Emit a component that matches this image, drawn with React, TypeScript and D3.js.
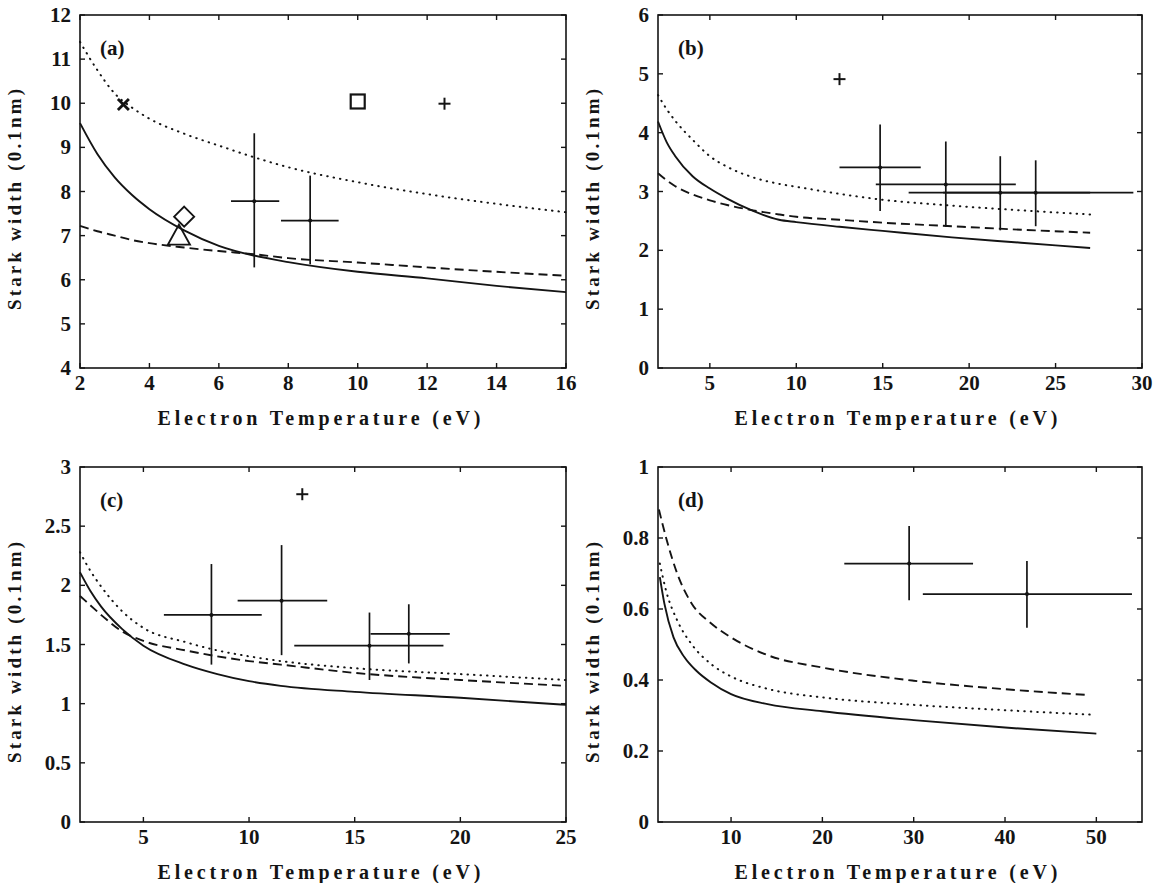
import React from 'react';
import * as d3 from 'd3';

// ---- panel (a) ----
const tempsA = [2, 2.5, 3, 3.5, 4, 5, 6, 7, 8, 10, 12, 14, 16];
const solidA = [9.55, 8.85, 8.32, 7.92, 7.6, 7.12, 6.77, 6.55, 6.4, 6.18, 6.03, 5.86, 5.72];
const dashedA = [7.22, 7.1, 7.0, 6.9, 6.83, 6.73, 6.65, 6.58, 6.49, 6.39, 6.28, 6.18, 6.09];
const dottedA = [11.39, 10.75, 10.22, 9.9, 9.65, 9.31, 9.04, 8.78, 8.55, 8.21, 7.94, 7.72, 7.53];
const barsA = [
  { t: 7.02, w: 7.78, tLo: 6.35, tHi: 7.74, wLo: 6.28, wHi: 9.32 },
  { t: 8.63, w: 7.34, tLo: 7.79, tHi: 9.45, wLo: 6.35, wHi: 8.36 },
];
const markersA = [
  { kind: 'x', t: 3.25, w: 9.97 },
  { kind: 'square', t: 10, w: 10.04 },
  { kind: 'plus', t: 12.5, w: 9.99 },
  { kind: 'diamond', t: 5.0, w: 7.43 },
  { kind: 'triangle', t: 4.85, w: 7.0 },
];

// ---- panel (b) ----
const tempsB = [2, 2.5, 3, 4, 5, 6, 7.5, 9, 10, 12.5, 15, 19, 23, 27];
const solidB = [4.19, 3.84, 3.6, 3.26, 3.05, 2.88, 2.67, 2.52, 2.48, 2.4, 2.33, 2.22, 2.13, 2.04];
const dashedB = [3.31, 3.19, 3.09, 2.95, 2.85, 2.77, 2.68, 2.61, 2.57, 2.52, 2.47, 2.41, 2.35, 2.3];
const dottedB = [4.64, 4.4, 4.2, 3.88, 3.6, 3.42, 3.24, 3.13, 3.08, 2.96, 2.86, 2.76, 2.68, 2.61];
const barsB = [
  { t: 14.85, w: 3.41, tLo: 12.5, tHi: 17.2, wLo: 2.67, wHi: 4.14 },
  { t: 18.65, w: 3.12, tLo: 14.6, tHi: 22.7, wLo: 2.4, wHi: 3.85 },
  { t: 21.8, w: 2.98, tLo: 16.5, tHi: 27.0, wLo: 2.34, wHi: 3.6 },
  { t: 23.85, w: 2.98, tLo: 18.5, tHi: 29.5, wLo: 2.41, wHi: 3.53 },
];
const markersB = [{ kind: 'plus', t: 12.5, w: 4.91 }];

// ---- panel (c) ----
const tempsC = [2, 2.5, 3, 4, 5, 7, 8.5, 10, 11.5, 15, 20, 25];
const solidC = [2.11, 1.95, 1.82, 1.63, 1.49, 1.33, 1.25, 1.19, 1.15, 1.1, 1.05, 0.99];
const dashedC = [1.91, 1.83, 1.75, 1.61, 1.53, 1.45, 1.4, 1.36, 1.33, 1.26, 1.2, 1.15];
const dottedC = [2.28, 2.12, 1.99, 1.78, 1.64, 1.52, 1.45, 1.4, 1.36, 1.3, 1.25, 1.2];
const barsC = [
  { t: 8.22, w: 1.75, tLo: 5.97, tHi: 10.6, wLo: 1.33, wHi: 2.18 },
  { t: 11.54, w: 1.87, tLo: 9.46, tHi: 13.7, wLo: 1.41, wHi: 2.34 },
  { t: 15.7, w: 1.49, tLo: 12.14, tHi: 19.2, wLo: 1.2, wHi: 1.77 },
  { t: 17.56, w: 1.59, tLo: 15.75, tHi: 19.5, wLo: 1.34, wHi: 1.84 },
];
const markersC = [{ kind: 'plus', t: 12.52, w: 2.77 }];

// ---- panel (d) ----
const tempsDs = [2.2, 2.7, 3.7, 4.9, 6.2, 7.8, 10, 14, 20, 30, 40, 50];
const solidD = [0.69, 0.615, 0.52, 0.464, 0.426, 0.393, 0.36, 0.332, 0.312, 0.287, 0.266, 0.249];
const tempsDd = [2.2, 2.9, 4.1, 5.7, 7.8, 10, 14, 20, 30, 40, 49.7];
const dottedD = [0.728, 0.65, 0.568, 0.5, 0.445, 0.41, 0.375, 0.351, 0.33, 0.315, 0.302];
const tempsDk = [2.1, 3.0, 4.1, 5.7, 7.8, 10, 14, 20, 30, 40, 49];
const dashedD = [0.88, 0.79, 0.7, 0.615, 0.56, 0.52, 0.47, 0.435, 0.398, 0.374, 0.358];
const barsD = [
  { t: 29.5, w: 0.728, tLo: 22.4, tHi: 36.5, wLo: 0.625, wHi: 0.834 },
  { t: 42.4, w: 0.642, tLo: 31.0, tHi: 53.9, wLo: 0.547, wHi: 0.735 },
];

// ticks
const xTicksA = [2, 4, 6, 8, 10, 12, 14, 16];
const yTicksA = [4, 5, 6, 7, 8, 9, 10, 11, 12];
const xTicksB = [5, 10, 15, 20, 25, 30];
const yTicksB = [0, 1, 2, 3, 4, 5, 6];
const xTicksC = [5, 10, 15, 20, 25];
const yTicksC = [0, 0.5, 1, 1.5, 2, 2.5, 3];
const xTicksD = [10, 20, 30, 40, 50];
const yTicksD = [0, 0.2, 0.4, 0.6, 0.8, 1];

const INK = '#141414';
const FONT = '"Liberation Serif", "DejaVu Serif", serif';

const dashFor = (s: string) => (s === 'dashed' ? '9 5' : s === 'dotted' ? '0.5 6' : undefined);

function Marker({ kind, cx, cy }: { kind: string; cx: number; cy: number }) {
  if (kind === 'plus') {
    const r = 6;
    return (
      <g stroke={INK} strokeWidth={2}>
        <line x1={cx - r} x2={cx + r} y1={cy} y2={cy} />
        <line x1={cx} x2={cx} y1={cy - r} y2={cy + r} />
      </g>
    );
  }
  if (kind === 'x') {
    const r = 5.5;
    return (
      <g stroke={INK} strokeWidth={2.8}>
        <line x1={cx - r} x2={cx + r} y1={cy - r} y2={cy + r} />
        <line x1={cx - r} x2={cx + r} y1={cy + r} y2={cy - r} />
      </g>
    );
  }
  if (kind === 'square') {
    const r = 7;
    return <rect x={cx - r} y={cy - r} width={2 * r} height={2 * r} fill="none" stroke={INK} strokeWidth={2.2} />;
  }
  if (kind === 'diamond') {
    return (
      <path d={`M${cx},${cy - 10}L${cx + 10},${cy}L${cx},${cy + 10}L${cx - 10},${cy}Z`} fill="none" stroke={INK} strokeWidth={1.9} />
    );
  }
  // triangle
  return (
    <path d={`M${cx},${cy - 11}L${cx + 11},${cy + 9}L${cx - 11},${cy + 9}Z`} fill="none" stroke={INK} strokeWidth={1.9} />
  );
}

type Bar = { t: number; w: number; tLo: number; tHi: number; wLo: number; wHi: number };
type Curve = { t: number[]; w: number[]; style: string };

function Panel(props: {
  left: number; right: number; top: number; bottom: number;
  xDomain: [number, number]; yDomain: [number, number];
  xTicks: number[]; yTicks: number[]; label: string;
  curves: Curve[]; bars: Bar[]; markers: { kind: string; t: number; w: number }[];
}) {
  const { left, right, top, bottom } = props;
  const x = d3.scaleLinear().domain(props.xDomain).range([left, right]);
  const y = d3.scaleLinear().domain(props.yDomain).range([bottom, top]);
  const line = d3
    .line<[number, number]>()
    .x((d) => x(d[0]))
    .y((d) => y(d[1]))
    .curve(d3.curveMonotoneX);
  const tl = 5;
  const midX = (left + right) / 2;
  const midY = (top + bottom) / 2;

  return (
    <g>
      {/* curves */}
      {props.curves.map((c, i) => (
        <path
          key={i}
          d={line(c.t.map((t, j) => [t, c.w[j]]) as [number, number][]) || ''}
          fill="none"
          stroke={INK}
          strokeWidth={c.style === 'dotted' ? 2 : 1.9}
          strokeDasharray={dashFor(c.style)}
          strokeLinecap={c.style === 'dotted' ? 'round' : 'butt'}
        />
      ))}
      {/* error bars */}
      {props.bars.map((b, i) => (
        <g key={i} stroke={INK} strokeWidth={1.7}>
          <line x1={x(b.tLo)} x2={x(b.tHi)} y1={y(b.w)} y2={y(b.w)} />
          <line x1={x(b.t)} x2={x(b.t)} y1={y(b.wLo)} y2={y(b.wHi)} />
          <circle cx={x(b.t)} cy={y(b.w)} r={2} fill={INK} stroke="none" />
        </g>
      ))}
      {props.markers.map((m, i) => (
        <Marker key={i} kind={m.kind} cx={x(m.t)} cy={y(m.w)} />
      ))}
      {/* frame */}
      <rect x={left} y={top} width={right - left} height={bottom - top} fill="none" stroke={INK} strokeWidth={1.6} />
      {/* ticks, inside on all four sides */}
      <g stroke={INK} strokeWidth={1.4}>
        {props.xTicks.map((t) => (
          <g key={'x' + t}>
            <line x1={x(t)} x2={x(t)} y1={bottom} y2={bottom - tl} />
            <line x1={x(t)} x2={x(t)} y1={top} y2={top + tl} />
          </g>
        ))}
        {props.yTicks.map((t) => (
          <g key={'y' + t}>
            <line x1={left} x2={left + tl} y1={y(t)} y2={y(t)} />
            <line x1={right} x2={right - tl} y1={y(t)} y2={y(t)} />
          </g>
        ))}
      </g>
      <g fontFamily={FONT} fontSize={21} fontWeight="bold" fill={INK}>
        {props.xTicks.map((t) => (
          <text key={'xl' + t} x={x(t)} y={bottom + 22} textAnchor="middle">
            {String(t)}
          </text>
        ))}
        {props.yTicks.map((t) => (
          <text key={'yl' + t} x={left - 9} y={y(t) + 7} textAnchor="end">
            {String(t)}
          </text>
        ))}
        <text x={left + 20} y={top + 40} fontSize={21}>
          {props.label}
        </text>
      </g>
      <g fontFamily={FONT} fontWeight="bold" fill={INK}>
        <text x={midX - 4} y={bottom + 57} fontSize={20} textAnchor="middle" textLength={323} lengthAdjust="spacing">
          Electron Temperature (eV)
        </text>
        <text
          transform={`translate(${left - 59},${midY + 8}) rotate(-90)`}
          fontSize={19}
          textAnchor="middle"
          textLength={221}
          lengthAdjust="spacing"
        >
          Stark width (0.1nm)
        </text>
      </g>
    </g>
  );
}

export default function App() {
  return (
    <svg
      width={1162}
      height={883}
      style={{ position: 'absolute', left: 0, top: 0, background: '#fff' }}
    >
      <rect width={1162} height={883} fill="#fff" />
      <Panel
        left={80} right={566} top={15} bottom={368}
        xDomain={[2, 16]} yDomain={[4, 12]}
        xTicks={xTicksA} yTicks={yTicksA} label="(a)"
        curves={[
          { t: tempsA, w: solidA, style: 'solid' },
          { t: tempsA, w: dashedA, style: 'dashed' },
          { t: tempsA, w: dottedA, style: 'dotted' },
        ]}
        bars={barsA} markers={markersA}
      />
      <Panel
        left={658} right={1142} top={15} bottom={368}
        xDomain={[2, 30]} yDomain={[0, 6]}
        xTicks={xTicksB} yTicks={yTicksB} label="(b)"
        curves={[
          { t: tempsB, w: solidB, style: 'solid' },
          { t: tempsB, w: dashedB, style: 'dashed' },
          { t: tempsB, w: dottedB, style: 'dotted' },
        ]}
        bars={barsB} markers={markersB}
      />
      <Panel
        left={80} right={566} top={467} bottom={822}
        xDomain={[2, 25]} yDomain={[0, 3]}
        xTicks={xTicksC} yTicks={yTicksC} label="(c)"
        curves={[
          { t: tempsC, w: solidC, style: 'solid' },
          { t: tempsC, w: dashedC, style: 'dashed' },
          { t: tempsC, w: dottedC, style: 'dotted' },
        ]}
        bars={barsC} markers={markersC}
      />
      <Panel
        left={658} right={1142} top={467} bottom={822}
        xDomain={[2, 55]} yDomain={[0, 1]}
        xTicks={xTicksD} yTicks={yTicksD} label="(d)"
        curves={[
          { t: tempsDs, w: solidD, style: 'solid' },
          { t: tempsDk, w: dashedD, style: 'dashed' },
          { t: tempsDd, w: dottedD, style: 'dotted' },
        ]}
        bars={barsD} markers={[]}
      />
    </svg>
  );
}
